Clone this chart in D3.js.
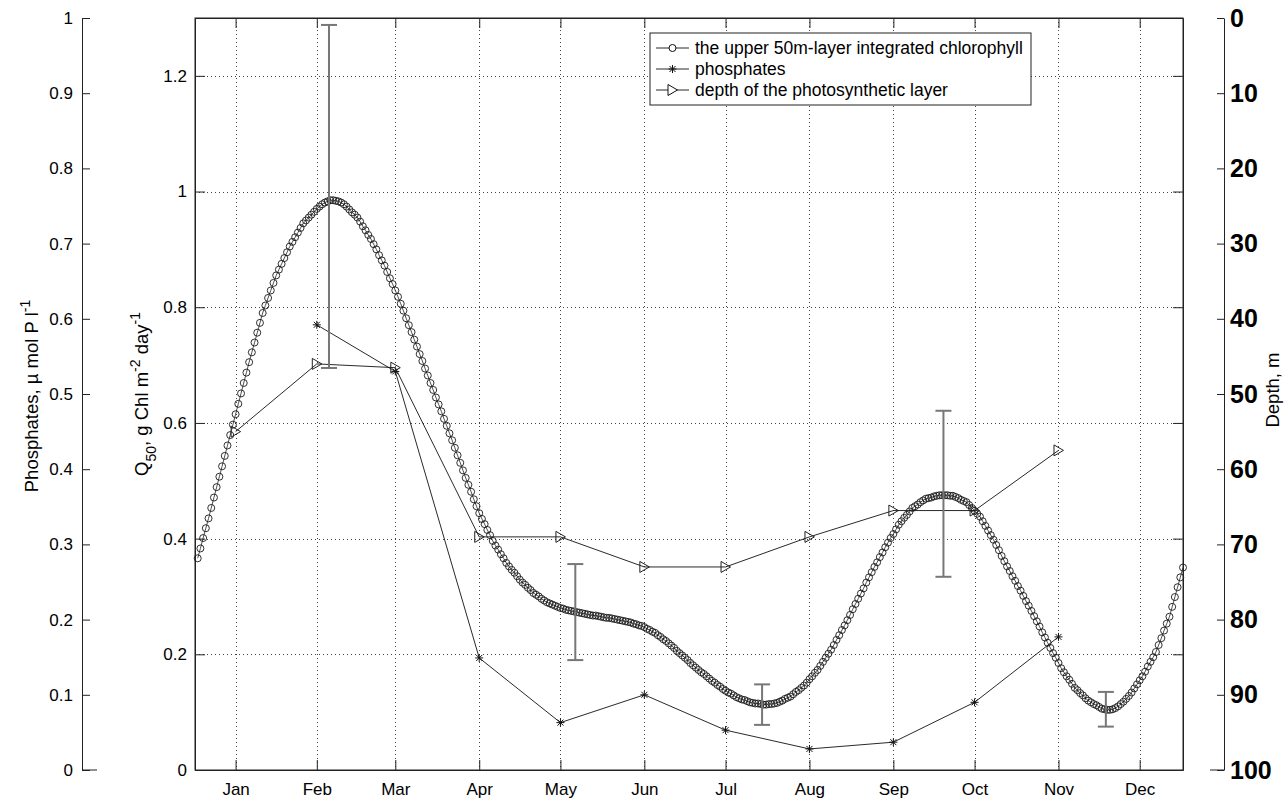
<!DOCTYPE html>
<html>
<head>
<meta charset="utf-8">
<script src="https://cdnjs.cloudflare.com/ajax/libs/d3/7.8.5/d3.min.js"></script>
<style>
body { margin: 0; background: #fff; }
text { font-family: "Liberation Sans", Arial, sans-serif; }
</style>
</head>
<body>
<script>
// x axis: day of year, ticks in mid-month
const monthLabels = ["Jan","Feb","Mar","Apr","May","Jun","Jul","Aug","Sep","Oct","Nov","Dec"];
const monthDays = [15,45,74,105,135,166,196,227,258,288,319,349];

// daily integrated chlorophyll Q50 (day 1..365)
const chlValues = [
  0.366,0.383,0.401,0.418,0.435, 0.453,0.471,0.489,0.507,0.525, 0.543,0.561,0.579,0.597,0.615,
  0.633,0.651,0.669,0.687,0.705, 0.722,0.739,0.756,0.773,0.790, 0.803,0.816,0.829,0.842,0.855,
  0.865,0.875,0.885,0.895,0.905, 0.913,0.921,0.929,0.937,0.945, 0.950,0.955,0.960,0.965,0.970,
  0.974,0.978,0.981,0.983,0.985, 0.985,0.984,0.983,0.981,0.978, 0.974,0.969,0.964,0.960,0.955,
  0.948,0.940,0.933,0.925,0.918, 0.909,0.900,0.890,0.881,0.872, 0.861,0.850,0.840,0.829,0.818,
  0.806,0.794,0.781,0.769,0.757, 0.744,0.732,0.719,0.707,0.694, 0.682,0.669,0.657,0.644,0.632,
  0.620,0.607,0.595,0.582,0.570, 0.557,0.544,0.531,0.518,0.505, 0.493,0.481,0.468,0.456,0.444,
  0.434,0.425,0.415,0.406,0.396, 0.388,0.381,0.373,0.366,0.358, 0.352,0.346,0.341,0.335,0.329,
  0.324,0.320,0.315,0.311,0.306, 0.303,0.300,0.296,0.293,0.290, 0.288,0.286,0.284,0.282,0.280,
  0.279,0.277,0.276,0.275,0.274, 0.273,0.272,0.271,0.270,0.269, 0.268,0.267,0.267,0.266,0.265,
  0.264,0.263,0.263,0.262,0.261, 0.260,0.259,0.258,0.257,0.256, 0.255,0.253,0.252,0.250,0.249,
  0.247,0.244,0.242,0.239,0.237, 0.233,0.230,0.226,0.223,0.219, 0.215,0.211,0.206,0.202,0.198,
  0.194,0.190,0.185,0.181,0.177, 0.173,0.169,0.166,0.162,0.158, 0.154,0.151,0.147,0.144,0.140,
  0.137,0.134,0.132,0.129,0.126, 0.124,0.122,0.121,0.119,0.117, 0.116,0.115,0.115,0.114,0.113,
  0.113,0.114,0.114,0.115,0.116, 0.118,0.120,0.123,0.125,0.127, 0.131,0.135,0.138,0.142,0.146,
  0.151,0.157,0.162,0.168,0.173, 0.180,0.187,0.194,0.201,0.208, 0.216,0.225,0.233,0.242,0.250,
  0.259,0.268,0.278,0.287,0.296, 0.305,0.314,0.324,0.333,0.342, 0.351,0.359,0.368,0.376,0.385,
  0.393,0.401,0.408,0.416,0.424, 0.430,0.436,0.441,0.447,0.453, 0.456,0.459,0.463,0.466,0.469,
  0.470,0.471,0.473,0.474,0.475, 0.475,0.475,0.475,0.474,0.474, 0.472,0.470,0.467,0.465,0.463,
  0.458,0.453,0.448,0.443,0.438, 0.430,0.422,0.414,0.406,0.398, 0.389,0.380,0.370,0.361,0.352,
  0.344,0.335,0.327,0.318,0.310, 0.301,0.292,0.284,0.275,0.266, 0.257,0.248,0.238,0.229,0.220,
  0.211,0.202,0.194,0.185,0.176, 0.169,0.162,0.156,0.149,0.142, 0.138,0.133,0.129,0.124,0.120,
  0.117,0.114,0.112,0.109,0.106, 0.105,0.104,0.104,0.105,0.107, 0.110,0.114,0.118,0.123,0.128,
  0.134,0.141,0.148,0.155,0.162, 0.170,0.179,0.187,0.195,0.204, 0.216,0.228,0.241,0.253,0.265,
  0.282,0.299,0.316,0.333,0.350
];

// error bars on chlorophyll
const errDays = [49.5, 140.5, 209.5, 276.5, 336.5];
const errLow  = [0.695, 0.190, 0.078, 0.334, 0.075];
const errHigh = [1.288, 0.356, 0.148, 0.621, 0.135];

// phosphates, umol P/l
const phosMonths = ["Feb","Mar","Apr","May","Jun","Jul","Aug","Sep","Oct","Nov"];
const phosValues = [0.592, 0.530, 0.149, 0.063, 0.100, 0.053, 0.028, 0.037, 0.090, 0.177];

// depth of the photosynthetic layer, m
const depthMonths = ["Jan","Feb","Mar","Apr","May","Jun","Jul","Aug","Sep","Oct","Nov"];
const depthValues = [55, 46, 46.5, 69, 69, 73, 73, 69, 65.5, 65.5, 57.5];

const chlTicks = [0, 0.2, 0.4, 0.6, 0.8, 1, 1.2];
const phosTicks = [0, 0.1, 0.2, 0.3, 0.4, 0.5, 0.6, 0.7, 0.8, 0.9, 1];
const depthTicks = [0, 10, 20, 30, 40, 50, 60, 70, 80, 90, 100];

const W = 1284, H = 800;
const pL = 195, pR = 1183, pT = 18, pB = 770;

const svg = d3.select("body").append("svg")
    .attr("width", W).attr("height", H);

const x = d3.scaleLinear().domain([0, 365]).range([pL, pR]);
const yChl = d3.scaleLinear().domain([0, 1.3]).range([pB, pT]);
const yPhos = d3.scaleLinear().domain([0, 1]).range([pB, pT]);
const yDepth = d3.scaleLinear().domain([0, 100]).range([pT, pB]);
const monthX = m => x(monthDays[monthLabels.indexOf(m)]);
const fmt = d3.format("~g");
const axisCol = "#222";

// grid
const grid = svg.append("g")
    .attr("stroke", "#444").attr("stroke-width", 1).attr("stroke-dasharray", "1,3");
grid.selectAll(".gx").data(monthDays).enter().append("line")
    .attr("x1", d => Math.round(x(d)) + 0.5).attr("x2", d => Math.round(x(d)) + 0.5)
    .attr("y1", pT).attr("y2", pB);
grid.selectAll(".gy").data(chlTicks.filter(d => d > 0)).enter().append("line")
    .attr("x1", pL).attr("x2", pR)
    .attr("y1", d => Math.round(yChl(d)) + 0.5).attr("y2", d => Math.round(yChl(d)) + 0.5);

function styleAxis(g) {
    g.selectAll("path, line").attr("stroke", axisCol);
    g.selectAll("text").attr("fill", "#000").attr("font-size", 17)
        .attr("font-family", "'Liberation Sans', Arial, sans-serif");
}

// main box axes
svg.append("g").attr("transform", `translate(0,${pB})`)
    .call(d3.axisBottom(x).tickValues(monthDays).tickFormat((d, i) => monthLabels[i])
        .tickSizeInner(-10).tickSizeOuter(0).tickPadding(13))
    .call(styleAxis);
svg.append("g").attr("transform", `translate(0,${pT})`)
    .call(d3.axisTop(x).tickValues(monthDays).tickFormat("")
        .tickSizeInner(-10).tickSizeOuter(0))
    .call(styleAxis);
svg.append("g").attr("transform", `translate(${pL},0)`)
    .call(d3.axisLeft(yChl).tickValues(chlTicks).tickFormat(fmt)
        .tickSizeInner(-10).tickSizeOuter(0).tickPadding(8))
    .call(styleAxis);
svg.append("g").attr("transform", `translate(${pR},0)`)
    .call(d3.axisRight(yChl).tickValues(chlTicks).tickFormat("")
        .tickSizeInner(-10).tickSizeOuter(0))
    .call(styleAxis);

// phosphate axis on the far left
const gPhos = svg.append("g").attr("transform", "translate(82,0)")
    .call(d3.axisLeft(yPhos).tickValues(phosTicks).tickFormat(fmt)
        .tickSizeInner(-8).tickSizeOuter(0).tickPadding(9))
    .call(styleAxis);
gPhos.append("line").attr("x1", 0).attr("x2", 15)
    .attr("y1", pB).attr("y2", pB).attr("stroke", axisCol);

// depth axis on the right
const gDepth = svg.append("g").attr("transform", "translate(1224,0)")
    .call(d3.axisRight(yDepth).tickValues(depthTicks)
        .tickSizeInner(-7).tickSizeOuter(0).tickPadding(6))
    .call(styleAxis);
gDepth.selectAll("text")
    .attr("font-family", "'Liberation Serif', 'Times New Roman', serif")
    .attr("font-weight", "bold").attr("font-size", 25);
gDepth.append("line").attr("x1", -14).attr("x2", 0)
    .attr("y1", pB).attr("y2", pB).attr("stroke", axisCol);

// axis titles
function title(tx, ty, parts) {
    const t = svg.append("text")
        .attr("transform", `translate(${tx},${ty}) rotate(-90)`)
        .attr("text-anchor", "middle").attr("font-size", 18.5);
    parts.forEach(p => {
        const s = t.append("tspan").text(p[0]);
        if (p[1] === "sup") s.attr("baseline-shift", "super").attr("font-size", 14);
        if (p[1] === "sub") s.attr("baseline-shift", "sub").attr("font-size", 14);
    });
}
title(38, 396, [["Phosphates, \u00b5 mol P l"], ["-1", "sup"]]);
title(148, 394, [["Q"], ["50", "sub"], [", g Chl m"], ["-2", "sup"], [" day"], ["-1", "sup"]]);
title(1279, 390, [["Depth, m"]]);

// chlorophyll line + circles
const chlData = chlValues.map((v, i) => ({day: i + 1, v: v}));
svg.append("path").datum(chlData)
    .attr("fill", "none").attr("stroke", "#222").attr("stroke-width", 0.8)
    .attr("d", d3.line().x(d => x(d.day)).y(d => yChl(d.v)));
svg.append("g").selectAll("circle").data(chlData).enter().append("circle")
    .attr("cx", d => x(d.day)).attr("cy", d => yChl(d.v)).attr("r", 3.5)
    .attr("fill", "none").attr("stroke", "#1a1a1a").attr("stroke-width", 0.9);

// phosphates line + stars
const starPath = "M-4,0H4M0,-4V4M-3,-3L3,3M-3,3L3,-3";
const phosData = phosMonths.map((m, i) => ({m: m, v: phosValues[i]}));
svg.append("path").datum(phosData)
    .attr("fill", "none").attr("stroke", "#111").attr("stroke-width", 0.9)
    .attr("d", d3.line().x(d => monthX(d.m)).y(d => yPhos(d.v)));
svg.append("g").selectAll("path").data(phosData).enter().append("path")
    .attr("transform", d => `translate(${monthX(d.m)},${yPhos(d.v)})`)
    .attr("d", starPath).attr("stroke", "#111").attr("stroke-width", 1);

// depth line + triangles
const triPath = "M-4.5,-5.5L5,0L-4.5,5.5Z";
const depthData = depthMonths.map((m, i) => ({m: m, v: depthValues[i]}));
svg.append("path").datum(depthData)
    .attr("fill", "none").attr("stroke", "#111").attr("stroke-width", 0.9)
    .attr("d", d3.line().x(d => monthX(d.m)).y(d => yDepth(d.v)));
svg.append("g").selectAll("path").data(depthData).enter().append("path")
    .attr("transform", d => `translate(${monthX(d.m)},${yDepth(d.v)})`)
    .attr("d", triPath).attr("fill", "none").attr("stroke", "#222").attr("stroke-width", 1);

// error bars
const errData = errDays.map((d, i) => ({day: d, lo: errLow[i], hi: errHigh[i]}));
const eb = svg.append("g").attr("stroke", "#777").attr("stroke-width", 2);
eb.selectAll(".v").data(errData).enter().append("line")
    .attr("x1", d => x(d.day)).attr("x2", d => x(d.day))
    .attr("y1", d => yChl(d.lo)).attr("y2", d => yChl(d.hi));
eb.selectAll(".lo").data(errData).enter().append("line")
    .attr("x1", d => x(d.day) - 8).attr("x2", d => x(d.day) + 8)
    .attr("y1", d => yChl(d.lo)).attr("y2", d => yChl(d.lo));
eb.selectAll(".hi").data(errData).enter().append("line")
    .attr("x1", d => x(d.day) - 8).attr("x2", d => x(d.day) + 8)
    .attr("y1", d => yChl(d.hi)).attr("y2", d => yChl(d.hi));

// box
svg.append("rect").attr("x", pL).attr("y", pT)
    .attr("width", pR - pL).attr("height", pB - pT)
    .attr("fill", "none").attr("stroke", axisCol);

// legend
const legendItems = [
    {label: "the upper 50m-layer integrated chlorophyll", mark: "circle"},
    {label: "phosphates", mark: "star"},
    {label: "depth of the photosynthetic layer", mark: "tri"}
];
const lg = svg.append("g").attr("transform", "translate(650,33)");
lg.append("rect").attr("width", 381).attr("height", 72)
    .attr("fill", "#fff").attr("stroke", axisCol);
const li = lg.selectAll(".it").data(legendItems).enter().append("g")
    .attr("transform", (d, i) => `translate(0,${15 + i * 21})`);
li.append("line").attr("x1", 6).attr("x2", 39).attr("stroke", "#111").attr("stroke-width", 0.9);
li.each(function(d) {
    const g = d3.select(this);
    if (d.mark === "circle") g.append("circle").attr("cx", 22.5).attr("r", 3.5)
        .attr("fill", "#fff").attr("stroke", "#111");
    else if (d.mark === "star") g.append("path").attr("transform", "translate(22.5,0)")
        .attr("d", starPath).attr("stroke", "#111");
    else g.append("path").attr("transform", "translate(22.5,0)")
        .attr("d", triPath).attr("fill", "#fff").attr("stroke", "#111");
});
li.append("text").attr("x", 45).attr("dy", "0.35em").attr("font-size", 17.5).text(d => d.label);
</script>
</body>
</html>
